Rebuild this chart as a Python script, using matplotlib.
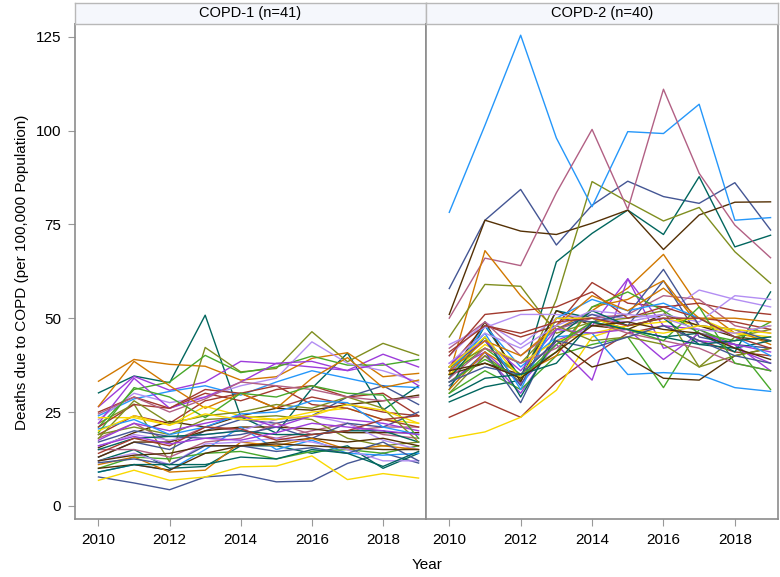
import matplotlib
matplotlib.use("Agg")
import matplotlib.pyplot as plt

plt.rcParams['font.family'] = ['Liberation Sans', 'DejaVu Sans']

years = list(range(2010, 2020))

# COPD-1 counties (n=41), deaths per 100,000, 2010-2019
copd1 = [
    [7.7, 6.1, 4.3, 7.7, 8.4, 6.4, 6.6, 11.3, 14.1, 11.4],
    [19, 24, 22, 28, 30, 26, 29, 27, 25, 24],
    [30.1, 34.6, 32.8, 50.8, 23.7, 19.4, 31.3, 40.7, 25.5, 32.0],
    [15.5, 19.5, 22.5, 21, 24, 26, 25.5, 27, 28, 29.5],
    [26.4, 34.5, 30.8, 33, 38.5, 37.9, 37, 36.1, 40.4, 37],
    [22, 27.1, 11.7, 42.2, 35.7, 36.6, 46.4, 38.4, 43.3, 40.1],
    [24, 28.5, 30.5, 32, 29.5, 33, 36, 34, 32, 31.5],
    [18, 22, 17, 21, 20, 18, 20, 22, 19, 18],
    [33.2, 39, 37.7, 37.2, 33.5, 34.4, 39.3, 40.8, 34.4, 35.3],
    [21, 31, 33, 40.1, 35.5, 37, 39.9, 37.5, 37.5, 39],
    [23, 30, 27.5, 29, 32, 34, 43.7, 38, 36, 33],
    [6.8, 9.5, 6.8, 7.7, 10.4, 10.6, 13.3, 7.0, 8.6, 7.4],
    [13, 17, 15, 20, 23, 22, 24, 29, 32, 27],
    [25, 29, 26, 30, 28, 31, 32, 29, 30, 24],
    [12, 15, 10, 10.5, 16, 16, 14, 16, 10, 14],
    [13, 17, 17, 20, 21, 21, 20.5, 19.5, 19.5, 19.5],
    [22, 34, 26, 29, 33, 38, 38.5, 36, 38, 32],
    [19, 21, 19, 23, 23.5, 24, 23, 18, 16, 17],
    [9, 11, 9.5, 15, 21, 15, 17.5, 14, 13.5, 14],
    [15, 15, 13, 17, 18, 22, 19, 20, 21, 21],
    [26.5, 38.5, 32, 26, 30, 26, 34, 39.5, 31.5, 33.5],
    [10, 13, 12.5, 14, 14.5, 12.5, 14.5, 15, 14, 16],
    [16, 19, 17.5, 19, 20, 23, 24, 22, 17.5, 15],
    [23.5, 23.5, 21.5, 26.5, 24, 23, 25, 26, 23, 22],
    [17, 20, 18.5, 18, 19, 21, 18, 22, 21, 25],
    [21, 27, 26, 31, 30, 32, 27, 26, 23, 21],
    [15, 18, 18.5, 19, 20, 19, 19, 20, 20, 17],
    [10, 11, 9.5, 14, 16, 17, 18, 17, 18, 16],
    [17.5, 22, 20, 22, 24, 21, 24, 23, 22, 20],
    [18, 28, 22, 24, 25, 27, 26, 29, 26, 17],
    [20.5, 23, 19, 21, 24.5, 25, 28, 27.5, 21, 19],
    [24.5, 29, 25, 28.5, 33, 32, 31, 29, 28, 29],
    [11, 13, 9, 9.5, 17, 16, 18, 15, 16, 15],
    [19.5, 31.5, 29, 23.5, 30, 29, 32, 30, 29.5, 18],
    [12, 14, 11, 16.5, 17, 18, 17, 15, 12, 12],
    [20, 24, 21.5, 24.5, 23, 23, 24, 27, 25.5, 22],
    [11.5, 12.5, 11, 16, 16, 14.5, 15.5, 14, 17, 12],
    [14, 18, 16, 21, 20.5, 17.5, 19, 20, 23, 24],
    [9, 11, 11, 11, 13, 12.5, 15, 14, 10.5, 14.5],
    [12, 13.5, 14, 16, 16, 16.5, 16, 15.5, 15, 15],
    [16, 18.5, 16.5, 18, 17.5, 19.5, 22, 21, 20, 19],
]

# COPD-2 counties (n=40)
copd2 = [
    [57.9, 76.1, 84.3, 69.5, 80.1, 86.5, 82.4, 80.6, 86.1, 73.5],
    [23.6, 27.7, 23.6, 33, 40, 46, 48, 44, 41, 40],
    [27.7, 31.7, 33.5, 65, 72.6, 78.8, 72.3, 87.7, 69, 72.1],
    [51, 76.1, 73.2, 72.3, 75.3, 78.8, 68.3, 77.5, 80.9, 81],
    [33, 40, 30, 44, 48, 60.5, 48, 47, 42, 38],
    [30, 40, 33, 55, 86.4, 81, 75.9, 79.5, 67.7, 59.3],
    [78.2, 101.4, 125.4, 98, 79.7, 99.7, 99.2, 107, 76.1, 76.8],
    [50, 66, 64, 83.4, 100.3, 79, 111, 88.6, 74.8, 66.1],
    [35, 68, 56, 47, 52, 58, 67, 53, 46, 48],
    [30, 36, 31, 40, 43, 45, 31.5, 47, 43, 31],
    [40, 49, 43, 50, 51, 50, 51, 57.5, 55, 53],
    [18, 19.7, 23.6, 30.8, 45, 48, 50, 48, 46, 44],
    [32, 41, 27.5, 47, 51, 48, 60, 45, 43, 42],
    [37, 48, 45, 48, 59.5, 54, 53, 54, 52, 51],
    [31, 48, 34, 52, 50, 47, 45, 46, 41, 57],
    [34, 49, 33, 52, 48, 47, 51, 48, 45, 44],
    [36, 41, 32.5, 43, 33.5, 60.5, 42, 44, 43, 36],
    [45, 59, 58.5, 46, 49, 50, 52, 37, 45, 47],
    [34, 48, 37, 45, 46, 35, 35.5, 35, 31.5, 30.5],
    [42, 49, 40, 47, 50, 51, 56, 55, 48, 46],
    [31, 41, 35, 40, 53, 55, 60, 48, 47, 43],
    [35, 42, 35, 41, 53, 57, 52, 46, 44, 49],
    [43, 47.5, 51, 51, 50, 49, 51, 49, 56, 55],
    [35, 43, 38, 44, 46, 48, 49, 50, 46, 45],
    [37, 44, 32, 50, 49, 51, 63, 48, 47, 44],
    [40, 51, 52, 53, 57, 50, 53, 50, 49, 47],
    [34, 45, 29, 45, 52, 48, 50, 43, 42, 44],
    [35, 38, 35, 44, 37, 39.5, 34, 33.5, 40, 42],
    [38, 44, 36, 47, 46, 47, 39, 46, 43, 41],
    [37, 42, 38, 48, 44, 45, 43, 37, 40, 42],
    [36, 46, 31, 50, 55, 52, 54, 50, 45, 40],
    [34, 42, 38, 42, 49, 46, 44, 42, 38, 36],
    [36, 44, 40, 48, 56, 52, 58, 50, 50, 49],
    [33, 39, 34, 43, 49, 47, 44, 53, 38, 36],
    [38, 46, 42, 48, 52, 51, 50, 47, 46, 48],
    [37, 45, 34, 50, 50, 47, 46, 48, 47, 46],
    [33, 37, 35, 44, 42, 45, 48, 44, 40, 38],
    [41, 48, 46, 49, 50, 48, 50, 50, 45, 42],
    [29, 34, 35, 38, 49, 47, 45, 43, 44, 45],
    [36, 38, 34, 41, 48, 49, 47, 46, 42, 39],
]

panel_titles = ["COPD-1 (n=41)", "COPD-2 (n=40)"]
yticks = [0, 25, 50, 75, 100, 125]
xticks = [2010, 2012, 2014, 2016, 2018]

# SAS HTMLBlue group colours
palette = ['#445694', '#A23A2E', '#01665E', '#543005', '#9D3CDB', '#7F8E1F',
           '#2597FA', '#B26084', '#D17800', '#47A82A', '#B38EF3', '#F9D800']

W, H = 780, 577
fig = plt.figure(figsize=(W / 100, H / 100), dpi=100)

top_px, bot_px = 24.3, 519
strip_top = 2.7
lefts = [75, 425.7]
widths = [350.7, 352]
frame = '#8C8C8C'

axes = []
for k, (data, title) in enumerate(zip([copd1, copd2], panel_titles)):
    ax = fig.add_axes([lefts[k] / W, 1 - bot_px / H, widths[k] / W, (bot_px - top_px) / H])
    for i, row in enumerate(data):
        ax.plot(years, row, color=palette[i % len(palette)], lw=1.0)
    ax.set_xlim(2009.34, 2019.2)
    ax.set_ylim(-3.5, 128.3)
    ax.set_xticks(xticks)
    ax.set_yticks(yticks)
    for s in ax.spines.values():
        s.set_color(frame)
        s.set_linewidth(1.2)
    ax.tick_params(direction='out', length=5, color='#999999', labelsize=11,
                   labelcolor='black', pad=5)
    if k == 1:
        ax.tick_params(axis='y', left=False, labelleft=False)
    # panel header strip
    sax = fig.add_axes([lefts[k] / W, 1 - top_px / H, widths[k] / W, (top_px - strip_top) / H])
    sax.set_facecolor('#F5F7FC')
    sax.set_xticks([])
    sax.set_yticks([])
    for s in sax.spines.values():
        s.set_color('#B8B8B8')
        s.set_linewidth(1.0)
    sax.text(0.5, 0.5, title, ha='center', va='center', fontsize=10.5, transform=sax.transAxes)
    axes.append(ax)

fig.text(22 / W, 1 - 272 / H, "Deaths due to COPD (per 100,000 Population)",
         rotation=90, ha='center', va='center', fontsize=11)
fig.text(427 / W, 1 - 565 / H, "Year", ha='center', va='center', fontsize=11)

fig.savefig("out.png", dpi=100)
